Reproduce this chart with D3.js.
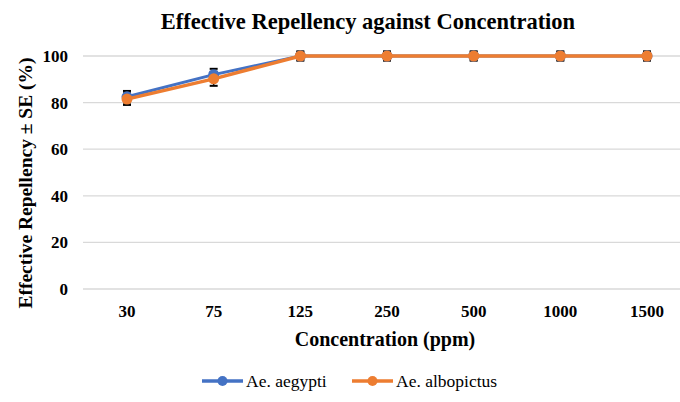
<!DOCTYPE html>
<html><head><meta charset="utf-8">
<script src="https://cdn.jsdelivr.net/npm/d3@7"></script>
<style>body{margin:0;background:#fff}svg{display:block}</style>
</head><body>
<svg id="c" width="680" height="402"></svg>
<script>
const categories = ["30","75","125","250","500","1000","1500"];
const aegypti = [82.5, 92, 100, 100, 100, 100, 100];
const aegyptiSE = [2.5, 2.5, 1.5, 1.5, 1.5, 1.5, 1.5];
const albopictus = [81.5, 90.2, 100, 100, 100, 100, 100];
const albopictusSE = [2.5, 3, 2, 2, 2, 2, 2];
const yTicks = [0, 20, 40, 60, 80, 100];
const seriesNames = ["Ae. aegypti", "Ae. albopictus"];
const colors = ["#4472C4", "#ED7D31"];

const svg = d3.select("#c")
  .attr("font-family", "'Liberation Serif', 'Times New Roman', 'DejaVu Serif', serif")
  .attr("font-weight", "bold").attr("fill", "#000");
const x = d3.scalePoint().domain(categories).range([127, 647]);
const y = d3.scaleLinear().domain([0, 100]).range([289, 56]);

svg.append("g").selectAll("line").data(yTicks).join("line")
  .attr("x1", 83).attr("x2", 690).attr("y1", d => y(d)).attr("y2", d => y(d))
  .attr("stroke", "#d9d9d9").attr("stroke-width", 1.3);

svg.append("g").selectAll("text").data(yTicks).join("text")
  .attr("x", 68).attr("y", d => y(d)).attr("dy", "0.35em").attr("text-anchor", "end")
  .attr("font-size", 17).text(d => d);

svg.append("g").selectAll("text").data(categories).join("text")
  .attr("x", d => x(d)).attr("y", 311).attr("dy", "0.35em").attr("text-anchor", "middle")
  .attr("font-size", 17).text(d => d);

svg.append("text").attr("x", 368).attr("y", 21).attr("dy", "0.35em").attr("text-anchor", "middle")
  .attr("font-size", 22.5).text("Effective Repellency against Concentration");
svg.append("text").attr("x", 385).attr("y", 339).attr("dy", "0.35em").attr("text-anchor", "middle")
  .attr("font-size", 20).text("Concentration (ppm)");
svg.append("text").attr("transform", "translate(25,183) rotate(-90)").attr("dy", "0.35em").attr("text-anchor", "middle")
  .attr("font-size", 19.5).text("Effective Repellency ± SE (%)");

const series = [
  {vals: aegypti, se: aegyptiSE, color: colors[0], w: 3},
  {vals: albopictus, se: albopictusSE, color: colors[1], w: 3.5}
];
const line = d3.line().x((d, i) => x(categories[i])).y(d => y(d));
series.forEach(s => {
  const g = svg.append("g");
  g.selectAll("line.err").data(s.vals).join("line")
    .attr("x1", (d, i) => x(categories[i])).attr("x2", (d, i) => x(categories[i]))
    .attr("y1", (d, i) => y(d + s.se[i])).attr("y2", (d, i) => y(d - s.se[i]))
    .attr("stroke", "#000").attr("stroke-width", 1.5);
  g.selectAll("line.cap").data(s.vals.flatMap((d, i) => [[i, d + s.se[i]], [i, d - s.se[i]]])).join("line")
    .attr("x1", d => x(categories[d[0]]) - 4).attr("x2", d => x(categories[d[0]]) + 4)
    .attr("y1", d => y(d[1])).attr("y2", d => y(d[1]))
    .attr("stroke", "#000").attr("stroke-width", 2);
});
series.forEach(s => {
  const g = svg.append("g");
  g.append("path").attr("d", line(s.vals)).attr("fill", "none").attr("stroke", s.color).attr("stroke-width", s.w);
  g.selectAll("circle").data(s.vals).join("circle")
    .attr("cx", (d, i) => x(categories[i])).attr("cy", d => y(d)).attr("r", 5.5).attr("fill", s.color);
});

const leg = [{x: 202, tx: 246}, {x: 352, tx: 396}];
seriesNames.forEach((n, i) => {
  const g = svg.append("g");
  g.append("line").attr("x1", leg[i].x).attr("x2", leg[i].x + 41).attr("y1", 381).attr("y2", 381)
    .attr("stroke", colors[i]).attr("stroke-width", 3.5);
  g.append("circle").attr("cx", leg[i].x + 20.5).attr("cy", 381).attr("r", 5).attr("fill", colors[i]);
  g.append("text").attr("x", leg[i].tx).attr("y", 381).attr("dy", "0.35em").attr("font-size", 17.5)
    .attr("font-weight", "normal").text(n);
});
</script>
</body></html>
